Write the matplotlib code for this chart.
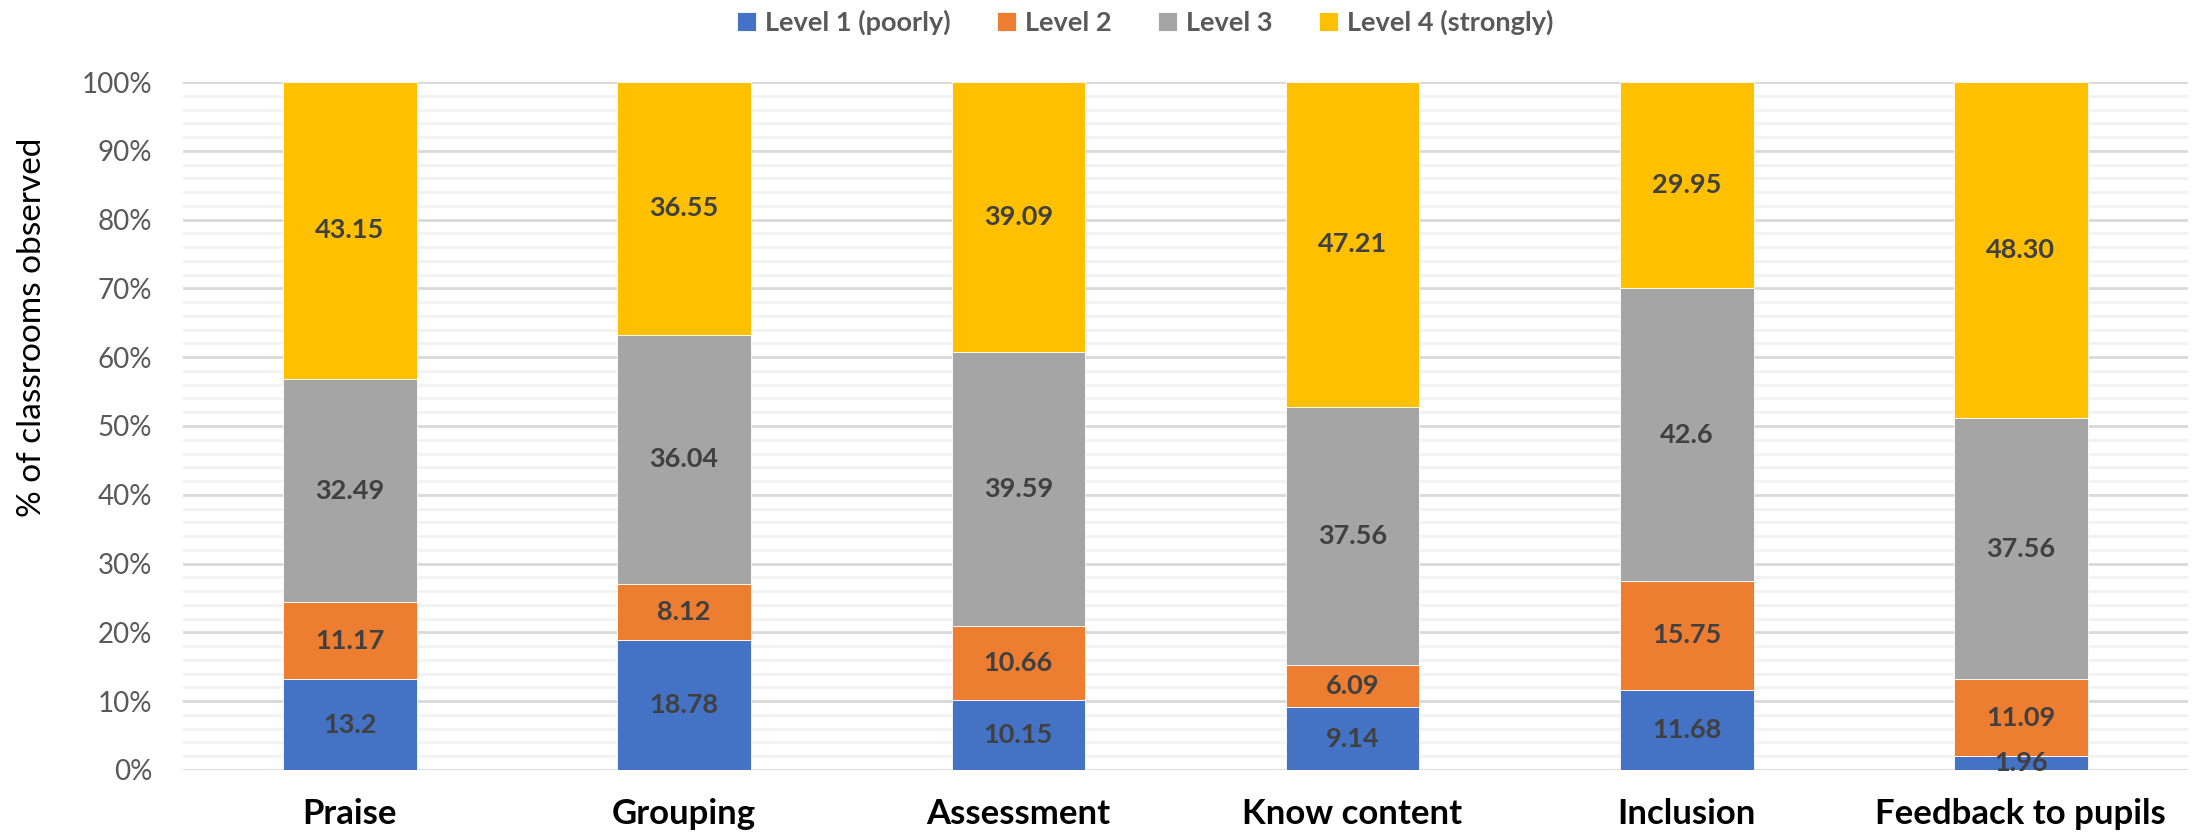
import numpy as np
import matplotlib.pyplot as plt
from matplotlib.ticker import MultipleLocator, PercentFormatter

categories = ['Praise', 'Grouping', 'Assessment', 'Know content', 'Inclusion', 'Feedback to pupils']
series_names = ['Level 1 (poorly)', 'Level 2', 'Level 3', 'Level 4 (strongly)']
level1 = [13.2, 18.78, 10.15, 9.14, 11.68, 1.96]
level2 = [11.17, 8.12, 10.66, 6.09, 15.75, 11.09]
level3 = [32.49, 36.04, 39.59, 37.56, 42.6, 37.56]
level4 = [43.15, 36.55, 39.09, 47.21, 29.95, 48.30]
label_text = [
    ['13.2', '18.78', '10.15', '9.14', '11.68', '1.96'],
    ['11.17', '8.12', '10.66', '6.09', '15.75', '11.09'],
    ['32.49', '36.04', '39.59', '37.56', '42.6', '37.56'],
    ['43.15', '36.55', '39.09', '47.21', '29.95', '48.30'],
]
colors = ['#4472C4', '#ED7D31', '#A5A5A5', '#FFC000']

data = np.array([level1, level2, level3, level4])
totals = data.sum(axis=0)
shares = data / totals * 100  # 100% stacked, like Excel

fig = plt.figure(figsize=(21.93, 8.36), dpi=100)
ax = fig.add_axes([0.0834, 0.079, 0.9143, 0.8229])

x = np.arange(len(categories))
bottom = np.zeros(len(categories))
for i in range(len(series_names)):
    bars = ax.bar(x, shares[i], 0.4, bottom=bottom, color=colors[i],
                  label=series_names[i], edgecolor='white', linewidth=0.6, zorder=3)
    ax.bar_label(bars, labels=label_text[i], label_type='center',
                 fontsize=19.5, fontweight='bold', color='#404040',
                 family='Lato', zorder=4)
    bottom += shares[i]

ax.set_xlim(-0.5, len(categories) - 0.5)
ax.set_ylim(0, 100)
ax.yaxis.set_major_locator(MultipleLocator(10))
ax.yaxis.set_minor_locator(MultipleLocator(2))
ax.yaxis.set_major_formatter(PercentFormatter(decimals=0))
ax.grid(axis='y', which='major', color='#D9D9D9', linewidth=2, zorder=0)
ax.grid(axis='y', which='minor', color='#F2F2F2', linewidth=2, zorder=0)
for s in ax.spines.values():
    s.set_visible(False)
ax.tick_params(axis='both', which='both', length=0)
ax.tick_params(axis='y', pad=22, labelsize=20, labelcolor='#595959')
for t in ax.get_yticklabels():
    t.set_family('Lato')

ax.set_xticks(x)
ax.set_xticklabels(categories, fontsize=25, fontweight='bold', family='Lato', color='black')
ax.tick_params(axis='x', pad=20)

# y title sits above the axis middle in the original
fig.text(0.0146, 0.609, '% of classrooms observed', rotation=90, ha='center', va='center',
         fontsize=24, family='Lato', color='black')

leg = ax.legend(loc='center', bbox_to_anchor=(0.48, 1.087), ncol=4, frameon=False,
                handlelength=0.7, handleheight=0.7, columnspacing=1.7, handletextpad=0.35,
                prop={'family': 'Lato', 'weight': 'bold', 'size': 19.5})
for t in leg.get_texts():
    t.set_color('#595959')

fig.savefig('out.png', dpi=100)
